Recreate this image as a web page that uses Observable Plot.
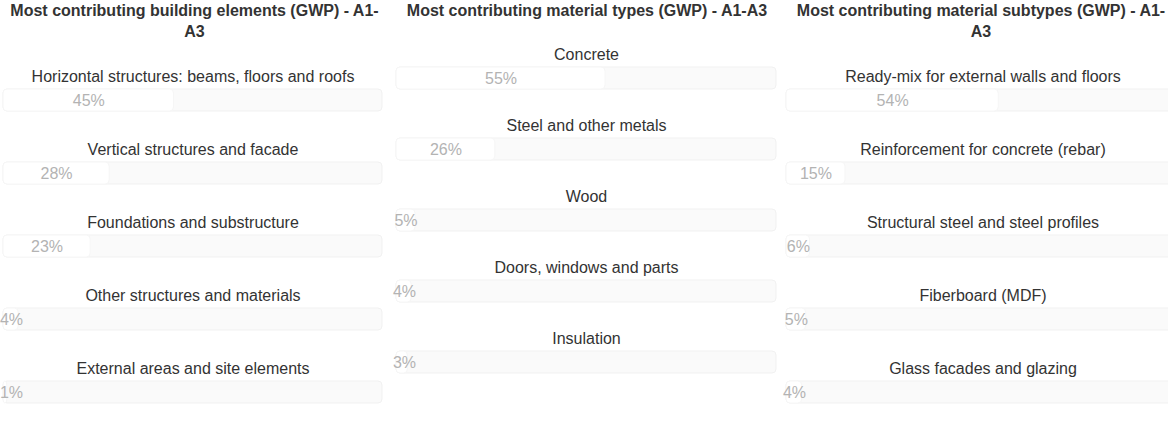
<!DOCTYPE html>
<html><head><meta charset="utf-8">
<script src="https://cdn.jsdelivr.net/npm/d3@7"></script>
<script src="https://cdn.jsdelivr.net/npm/@observablehq/plot@0.6"></script>
<style>
body{margin:0;background:#fff;font-family:"Liberation Sans",Arial,sans-serif;overflow:hidden;width:1168px;height:426px;position:relative}
.panel{position:absolute;top:0}
.title{font-weight:bold;font-size:16px;line-height:21px;color:#333;text-align:center;margin:0}
svg{display:block}
</style></head><body>
<script>
const titles = [
  "Most contributing building elements (GWP) - A1-A3",
  "Most contributing material types (GWP) - A1-A3",
  "Most contributing material subtypes (GWP) - A1-A3"
];
const elementCategories = ["Horizontal structures: beams, floors and roofs","Vertical structures and facade","Foundations and substructure","Other structures and materials","External areas and site elements"];
const elementValues = [45, 28, 23, 4, 1];
const typeCategories = ["Concrete","Steel and other metals","Wood","Doors, windows and parts","Insulation"];
const typeValues = [55, 26, 5, 4, 3];
const subtypeCategories = ["Ready-mix for external walls and floors","Reinforcement for concrete (rebar)","Structural steel and steel profiles","Fiberboard (MDF)","Glass facades and glazing"];
const subtypeValues = [54, 15, 6, 5, 4];

const panels = [
  {title: titles[0], cats: elementCategories, vals: elementValues, left: 0, width: 389, titleW: 380, titleOff: 4.5, ml: 3, mr: 7, mt: 47, step: 73.25},
  {title: titles[1], cats: typeCategories, vals: typeValues, left: 390, width: 394, titleW: 394, titleOff: 0, ml: 6, mr: 8, mt: 46, step: 71.75},
  {title: titles[2], cats: subtypeCategories, vals: subtypeValues, left: 783, width: 396, titleW: 380, titleOff: 8, ml: 3, mr: 0, mt: 47, step: 73.25}
];

for (const p of panels) {
  const div = document.createElement("div");
  div.className = "panel";
  div.style.left = p.left + "px";
  div.style.width = p.width + "px";
  const t = document.createElement("div");
  t.className = "title";
  t.style.width = p.titleW + "px";
  t.style.marginLeft = p.titleOff + "px";
  t.textContent = p.title;
  div.appendChild(t);
  const data = p.cats.map((c, i) => ({cat: c, value: p.vals[i]}));
  const bw = 22;
  const pad = 1 - bw / p.step;
  const n = data.length;
  const L = p.step * (n - pad);
  const mb = 20;
  const trackW = p.width - p.ml - p.mr;
  const pxPerUnit = trackW / 100;
  const labelX = d => {
    const w = String(d.value).length === 1 ? 22 : 31;
    return Math.max(d.value / 2, (w / 2 - 3) / pxPerUnit);
  };
  const chart = Plot.plot({
    width: p.width,
    height: p.mt + L + mb,
    marginLeft: p.ml, marginRight: p.mr, marginTop: p.mt, marginBottom: mb,
    style: {fontFamily: '"Liberation Sans", Arial, sans-serif', background: "transparent", overflow: "visible"},
    x: {domain: [0, 100], axis: null},
    y: {domain: p.cats, axis: null, paddingInner: pad, paddingOuter: 0, align: 0},
    marks: [
      Plot.barX(data, {x1: 0, x2: 100, y: "cat", fill: "#fafafa", stroke: "#f1f1f1", strokeWidth: 1, rx: 4}),
      Plot.barX(data, {x1: 0, x2: "value", y: "cat", fill: "#ffffff", stroke: "#f6f6f6", strokeWidth: 1, rx: 4}),
      Plot.text(data, {x: 50, y: "cat", text: "cat", dy: -24, fontSize: 16, fill: "#333"}),
      Plot.text(data, {x: labelX, y: "cat", text: d => d.value + "%", fontSize: 16, fill: "#b3b3b3"})
    ]
  });
  div.appendChild(chart);
  document.body.appendChild(div);
}
</script>
</body></html>
